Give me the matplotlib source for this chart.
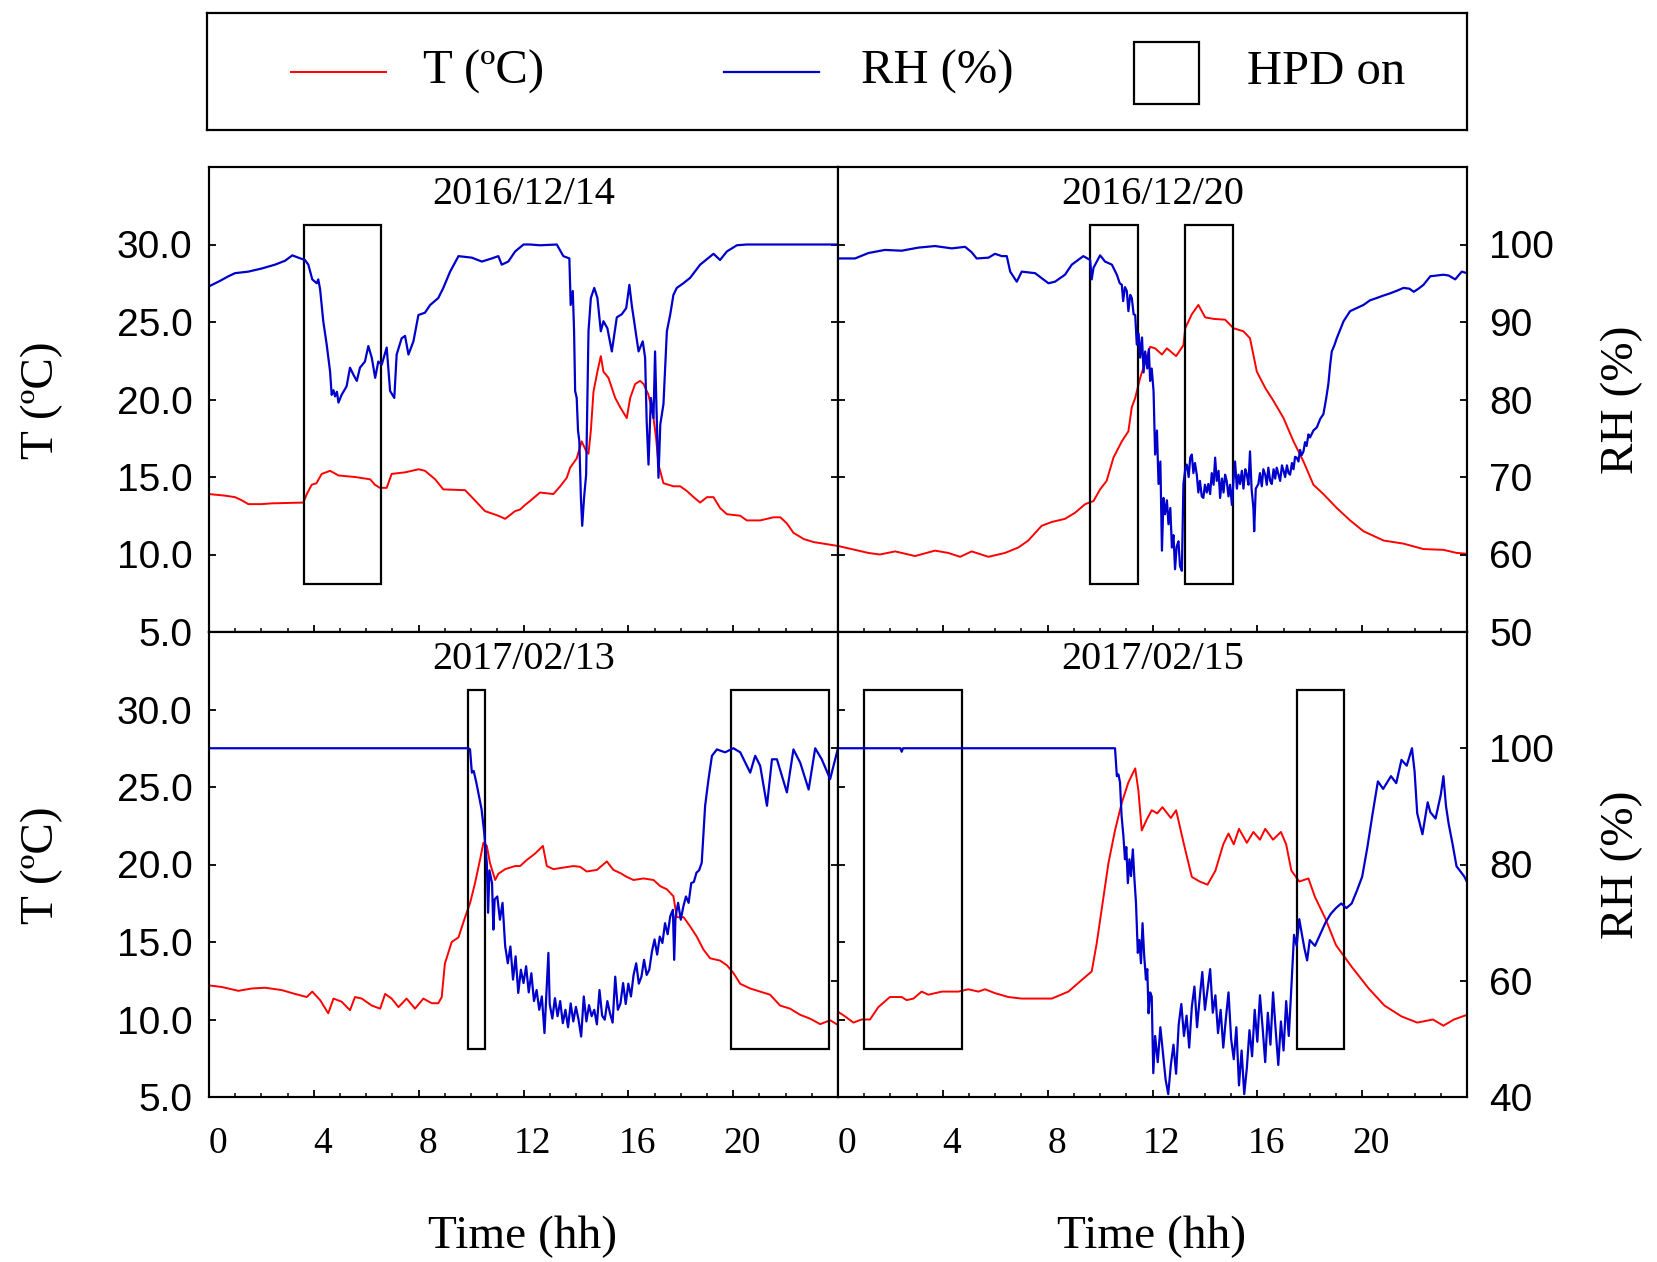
import numpy as np
import matplotlib.pyplot as plt
from matplotlib.patches import Rectangle
from matplotlib.lines import Line2D
from matplotlib.ticker import MultipleLocator, FormatStrFormatter
from matplotlib.transforms import ScaledTranslation

plt.rcParams['font.family'] = 'Liberation Serif'

# ---- 2016/12/14 ----
tl_t_h = [0, 0.6, 0.99, 1.25, 1.5, 2.0, 2.4, 3.6, 3.73, 3.92, 4.1, 4.3, 4.62, 4.94, 5.57, 6.15,
          6.33, 6.52, 6.78, 6.97, 7.48, 8.0, 8.24, 8.63, 8.94, 9.77, 10.03, 10.53, 11.04, 11.3,
          11.68, 11.87, 12.06, 12.25, 12.63, 13.14, 13.4, 13.65, 13.78, 14.03, 14.22, 14.41,
          14.48, 14.57, 14.67, 14.82, 14.95, 15.05, 15.24, 15.5, 15.69, 15.94, 16.07, 16.26,
          16.45, 16.58, 16.77, 16.96, 17.06, 17.15, 17.34, 17.72, 17.98, 18.23, 18.49, 18.74,
          19.0, 19.25, 19.5, 19.76, 20.27, 20.52, 21.03, 21.54, 21.8, 22.05, 22.3, 22.69, 23.07,
          23.45, 24.0]
tl_t = [13.9, 13.8, 13.7, 13.5, 13.25, 13.25, 13.3, 13.35, 13.9, 14.5, 14.6, 15.2, 15.4, 15.1,
        15.0, 14.85, 14.5, 14.3, 14.3, 15.2, 15.3, 15.5, 15.4, 14.85, 14.2, 14.15, 13.7, 12.8,
        12.5, 12.3, 12.8, 12.9, 13.2, 13.45, 14.0, 13.9, 14.4, 14.95, 15.6, 16.2, 17.3, 16.6,
        16.5, 18.0, 20.5, 21.8, 22.8, 21.8, 21.4, 20.1, 19.5, 18.8, 20.1, 21.0, 21.2, 21.0, 20.3,
        18.8, 17.5, 15.8, 14.6, 14.4, 14.4, 14.1, 13.7, 13.35, 13.7, 13.7, 13.0, 12.6, 12.5, 12.2,
        12.2, 12.4, 12.4, 12.0, 11.4, 11.0, 10.8, 10.7, 10.55]
tl_rh_h = [0, 0.36, 0.74, 0.99, 1.5, 2.01, 2.52, 2.9, 3.18, 3.41, 3.66, 3.79, 3.94, 4.11, 4.17,
           4.24, 4.36, 4.49, 4.62, 4.68, 4.75, 4.81, 4.88, 4.94, 5.06, 5.25, 5.38, 5.51, 5.64,
           5.76, 5.95, 6.08, 6.21, 6.34, 6.46, 6.59, 6.78, 6.91, 7.07, 7.16, 7.35, 7.48, 7.61,
           7.8, 7.99, 8.24, 8.44, 8.75, 8.94, 9.2, 9.52, 10.03, 10.41, 10.79, 11.04, 11.17, 11.42,
           11.68, 12.0, 12.25, 12.63, 13.27, 13.52, 13.75, 13.8, 13.88, 13.93, 13.97, 14.03,
           14.08, 14.13, 14.19, 14.24, 14.31, 14.39, 14.48, 14.57, 14.7, 14.82, 14.95, 15.05,
           15.2, 15.37, 15.56, 15.75, 15.92, 16.04, 16.13, 16.26, 16.39, 16.55, 16.64, 16.7,
           16.77, 16.86, 16.96, 17.02, 17.09, 17.15, 17.22, 17.34, 17.47, 17.6, 17.72, 17.85,
           18.1, 18.36, 18.74, 19.25, 19.5, 19.76, 20.14, 20.52, 24.0]
tl_rh = [94.6, 95.2, 95.9, 96.3, 96.5, 96.9, 97.4, 97.9, 98.6, 98.3, 98.0, 97.4, 95.5, 95.0, 95.5,
         94.2, 90.1, 87.1, 83.6, 80.6, 81.2, 80.4, 81.0, 79.6, 80.6, 81.7, 84.1, 83.2, 82.4, 84.1,
         84.9, 86.9, 85.4, 82.8, 84.9, 84.5, 86.7, 81.1, 80.2, 85.8, 87.9, 88.2, 85.8, 87.5, 90.9,
         91.2, 92.2, 93.1, 94.4, 96.5, 98.5, 98.3, 97.8, 98.2, 98.5, 97.4, 97.8, 99.1, 100.0,
         100.0, 99.9, 100.0, 98.5, 98.2, 92.2, 94.0, 88.8, 81.1, 80.2, 76.0, 74.6, 67.3, 63.7,
         67.3, 70.3, 88.8, 93.1, 94.4, 93.1, 88.8, 90.1, 89.2, 86.2, 90.6, 91.0, 91.8, 94.8,
         92.2, 89.2, 86.2, 87.5, 85.4, 77.2, 71.6, 80.2, 77.6, 86.2, 76.8, 69.9, 76.8, 79.4,
         88.8, 91.0, 93.5, 94.4, 95.0, 95.7, 97.4, 98.8, 98.0, 99.1, 99.9, 100.0, 100.0]
tl_hpd = [(3.63, 6.55)]

# ---- 2016/12/20 ----
tr_t_h = [0, 0.52, 1.16, 1.6, 2.18, 2.94, 3.7, 4.21, 4.66, 5.1, 5.74, 6.37, 6.88, 7.26, 7.77,
          8.16, 8.66, 9.05, 9.43, 9.75, 10.0, 10.25, 10.51, 10.83, 11.08, 11.21, 11.34, 11.53,
          11.78, 11.91, 12.1, 12.36, 12.55, 12.9, 13.18, 13.25, 13.5, 13.75, 14.01, 14.33, 14.77,
          15.09, 15.47, 15.72, 15.98, 16.3, 16.62, 17.0, 17.38, 17.76, 18.14, 18.52, 19.03,
          19.54, 20.05, 20.82, 21.58, 22.34, 23.1, 23.61, 24.0]
tr_t = [10.55, 10.35, 10.1, 10.0, 10.2, 9.9, 10.25, 10.1, 9.85, 10.2, 9.85, 10.1, 10.45, 10.9,
        11.85, 12.1, 12.3, 12.7, 13.25, 13.45, 14.2, 14.75, 16.25, 17.3, 17.95, 19.5, 20.1, 21.4,
        22.7, 23.4, 23.3, 22.9, 23.3, 22.8, 23.5, 24.6, 25.5, 26.1, 25.3, 25.2, 25.15, 24.6,
        24.4, 23.95, 21.8, 20.75, 19.9, 18.8, 17.3, 16.0, 14.5, 13.9, 13.0, 12.2, 11.5, 10.9,
        10.7, 10.35, 10.3, 10.1, 10.05]
tr_rh_h = [0, 0.65, 1.16, 1.79, 2.43, 3.07, 3.7, 4.34, 4.85, 5.1, 5.29, 5.74, 5.99, 6.25, 6.44,
           6.57, 6.82, 7.01, 7.52, 8.03, 8.28, 8.66, 8.92, 9.36, 9.62, 9.68, 9.75, 10.0, 10.19,
           10.45, 10.64, 10.75, 10.83, 10.88, 10.95, 11.02, 11.08, 11.15, 11.21, 11.28, 11.34,
           11.4, 11.47, 11.53, 11.6, 11.66, 11.72, 11.8, 11.86, 11.91, 11.97, 12.04, 12.1, 12.17,
           12.23, 12.3, 12.36, 12.42, 12.48, 12.55, 12.61, 12.68, 12.74, 12.8, 12.86, 12.92,
           12.99, 13.05, 13.12, 13.18, 13.25, 13.31, 13.38, 13.44, 13.5, 13.56, 13.62, 13.69,
           13.75, 13.81, 13.88, 13.94, 14.0, 14.07, 14.13, 14.2, 14.26, 14.33, 14.39, 14.45,
           14.52, 14.58, 14.65, 14.71, 14.77, 14.83, 14.9, 14.96, 15.03, 15.09, 15.15, 15.22,
           15.28, 15.34, 15.41, 15.47, 15.54, 15.6, 15.66, 15.72, 15.78, 15.85, 15.88, 15.94,
           16.04, 16.1, 16.17, 16.23, 16.3, 16.36, 16.42, 16.49, 16.55, 16.62, 16.68, 16.74,
           16.81, 16.87, 16.94, 17.0, 17.06, 17.13, 17.19, 17.25, 17.32, 17.38, 17.44, 17.5,
           17.57, 17.63, 17.69, 17.76, 17.82, 17.88, 17.95, 18.01, 18.14, 18.27, 18.4, 18.52,
           18.62, 18.71, 18.78, 18.84, 18.94, 19.03, 19.16, 19.29, 19.54, 19.8, 20.05, 20.3,
           20.56, 20.8, 21.07, 21.3, 21.58, 21.8, 21.97, 22.15, 22.34, 22.6, 22.85, 23.1, 23.3,
           23.55, 23.8, 24.0]
tr_rh = [98.2, 98.2, 98.9, 99.3, 99.2, 99.6, 99.8, 99.5, 99.7, 99.0, 98.2, 98.3, 98.8, 98.5,
         98.5, 96.5, 95.2, 96.5, 96.3, 95.0, 95.2, 96.1, 97.4, 98.5, 98.0, 95.5, 97.0, 98.6, 97.8,
         97.4, 96.1, 95.0, 94.8, 92.7, 94.5, 94.0, 91.4, 93.5, 93.1, 91.0, 90.9, 87.1, 88.5,
         85.4, 88.0, 83.5, 86.2, 84.0, 86.5, 82.4, 84.0, 81.1, 72.9, 76.0, 69.1, 72.0, 60.5,
         67.3, 65.2, 67.0, 63.9, 66.0, 60.9, 62.5, 58.1, 61.0, 61.7, 58.5, 57.9, 69.1, 71.0,
         71.6, 70.0, 72.5, 72.9, 70.5, 71.8, 70.3, 68.0, 69.5, 67.5, 67.3, 69.0, 68.0, 69.1,
         67.8, 70.5, 69.0, 72.5, 69.5, 70.8, 67.3, 69.8, 68.0, 70.3, 69.5, 67.5, 69.0, 66.4,
         69.5, 72.0, 68.5, 70.3, 69.1, 70.8, 68.5, 71.0, 70.3, 69.0, 73.3, 68.5, 66.0, 63.0,
         68.5, 69.1, 70.5, 68.8, 71.0, 70.3, 69.0, 71.2, 69.5, 69.1, 71.0, 69.8, 71.2, 70.3,
         69.5, 71.5, 70.8, 70.0, 71.5, 70.5, 70.3, 71.8, 71.0, 72.6, 72.5, 72.0, 73.5, 72.8,
         73.3, 74.5, 74.0, 75.5, 75.1, 76.0, 76.4, 77.5, 78.1, 80.0, 82.0, 84.5, 86.2, 87.0,
         87.9, 89.0, 90.1, 91.4, 91.8, 92.2, 92.8, 93.1, 93.4, 93.7, 94.0, 94.4, 94.3, 93.9,
         94.3, 94.8, 95.9, 96.0, 96.1, 96.0, 95.5, 96.5, 96.3]
tr_hpd = [(9.62, 11.44), (13.24, 15.06)]

# ---- 2017/02/13 ----
bl_t_h = [0, 0.48, 1.12, 1.63, 2.14, 2.77, 3.28, 3.73, 3.94, 4.24, 4.55, 4.75, 5.06, 5.38,
          5.57, 5.83, 6.21, 6.53, 6.72, 6.97, 7.23, 7.54, 7.86, 8.18, 8.5, 8.75, 8.88, 9.0, 9.26,
          9.52, 9.77, 9.96, 10.15, 10.34, 10.47, 10.6, 10.72, 10.92, 11.04, 11.3, 11.68, 11.87,
          12.13, 12.44, 12.74, 12.89, 13.14, 13.52, 13.9, 14.16, 14.41, 14.8, 15.18, 15.43,
          15.69, 15.94, 16.2, 16.58, 16.96, 17.22, 17.47, 17.72, 17.85, 18.11, 18.36, 18.61,
          18.87, 19.12, 19.5, 19.76, 20.01, 20.27, 20.65, 21.03, 21.41, 21.79, 22.17, 22.56,
          22.94, 23.32, 23.7, 24.0]
bl_t = [12.2, 12.1, 11.85, 12.0, 12.05, 11.9, 11.65, 11.45, 11.8, 11.25, 10.4, 11.35, 11.15,
        10.6, 11.45, 11.35, 10.9, 10.7, 11.65, 11.35, 10.8, 11.35, 10.7, 11.35, 11.05, 11.05,
        11.45, 13.6, 15.0, 15.3, 16.6, 17.5, 18.8, 20.3, 21.4, 21.2, 20.1, 19.0, 19.4, 19.7,
        19.9, 19.9, 20.3, 20.7, 21.2, 19.9, 19.7, 19.8, 19.9, 19.85, 19.55, 19.65, 20.2, 19.65,
        19.45, 19.2, 19.0, 19.1, 19.0, 18.6, 18.4, 17.95, 16.6, 16.6, 16.0, 15.35, 14.5, 13.95,
        13.8, 13.5, 13.0, 12.3, 12.0, 11.8, 11.6, 10.9, 10.7, 10.3, 10.05, 9.7, 9.95, 9.65]
bl_rh_h = [0, 9.9, 9.96, 10.03, 10.1, 10.2, 10.3, 10.4, 10.5, 10.6, 10.65, 10.7, 10.8, 10.85,
           10.9, 11.0, 11.1, 11.2, 11.3, 11.4, 11.5, 11.6, 11.7, 11.8, 11.9, 12.0, 12.1, 12.2,
           12.3, 12.4, 12.5, 12.6, 12.7, 12.8, 12.85, 12.95, 13.0, 13.1, 13.2, 13.3, 13.4, 13.5,
           13.6, 13.7, 13.8, 13.9, 14.0, 14.1, 14.2, 14.3, 14.4, 14.5, 14.6, 14.7, 14.8, 14.9,
           15.0, 15.1, 15.2, 15.3, 15.4, 15.5, 15.6, 15.7, 15.8, 15.9, 16.0, 16.1, 16.2, 16.3,
           16.4, 16.5, 16.6, 16.7, 16.8, 16.9, 17.0, 17.1, 17.2, 17.3, 17.4, 17.5, 17.6, 17.7,
           17.75, 17.8, 17.9, 18.0, 18.1, 18.2, 18.3, 18.4, 18.5, 18.6, 18.7, 18.8, 18.93, 19.06,
           19.19, 19.38, 19.69, 20.01, 20.27, 20.65, 20.84, 21.03, 21.29, 21.48, 21.67, 22.05,
           22.3, 22.56, 22.88, 23.13, 23.38, 23.7, 24.0]
bl_rh = [100.0, 100.0, 99.8, 95.8, 96.1, 94.1, 91.8, 89.5, 85.5, 80.3, 71.7, 79.0, 76.8, 68.8,
         74.0, 74.5, 70.5, 73.4, 66.0, 63.0, 65.9, 60.2, 64.2, 57.9, 61.9, 59.6, 62.5, 58.0,
         61.3, 56.5, 58.4, 55.0, 57.3, 51.0, 55.6, 64.8, 56.0, 53.5, 57.0, 53.9, 56.5, 52.7,
         55.0, 52.0, 56.1, 53.0, 55.5, 53.3, 50.4, 57.3, 53.0, 55.8, 53.9, 55.0, 52.5, 58.4,
         54.0, 53.3, 56.5, 54.4, 52.8, 60.7, 55.0, 56.1, 59.6, 56.0, 59.5, 57.3, 61.0, 63.0,
         59.5, 60.7, 63.6, 61.0, 61.9, 65.0, 67.1, 64.5, 67.6, 66.5, 69.9, 68.0, 71.1, 72.2,
         63.6, 71.0, 73.4, 70.5, 72.8, 74.5, 73.4, 76.8, 77.0, 78.6, 79.0, 80.3, 90.1, 94.7,
         98.7, 99.8, 99.3, 100.0, 99.3, 95.8, 98.7, 97.0, 90.1, 98.1, 98.1, 92.4, 99.8, 97.5,
         92.9, 100.0, 98.1, 94.7, 100.0]
bl_hpd = [(9.87, 10.53), (19.92, 23.66)]

# ---- 2017/02/15 ----
br_t_h = [0, 0.27, 0.59, 0.9, 1.22, 1.54, 1.98, 2.43, 2.62, 2.88, 3.19, 3.45, 3.96, 4.59, 4.97,
          5.36, 5.61, 5.99, 6.5, 7.01, 7.52, 8.16, 8.79, 9.3, 9.68, 9.87, 10.06, 10.32, 10.57,
          10.83, 11.08, 11.34, 11.46, 11.59, 11.78, 11.97, 12.18, 12.38, 12.7, 12.9, 13.2, 13.5,
          13.8, 14.1, 14.4, 14.7, 14.9, 15.1, 15.3, 15.6, 15.85, 16.1, 16.3, 16.6, 16.9, 17.1,
          17.3, 17.6, 17.95, 18.2, 18.6, 19.0, 19.6, 20.25, 20.85, 21.5, 22.1, 22.7, 23.1, 23.5,
          24.0]
br_t = [10.5, 10.2, 9.8, 10.0, 10.0, 10.8, 11.45, 11.45, 11.25, 11.35, 11.8, 11.6, 11.8, 11.8,
        11.95, 11.8, 11.95, 11.7, 11.45, 11.35, 11.35, 11.35, 11.8, 12.55, 13.1, 14.9, 17.1,
        20.1, 22.2, 24.0, 25.3, 26.2, 24.8, 22.2, 22.9, 23.5, 23.3, 23.7, 23.0, 23.5, 21.3,
        19.2, 18.9, 18.7, 19.6, 21.3, 22.0, 21.3, 22.3, 21.4, 22.1, 21.6, 22.3, 21.6, 22.1, 21.3,
        19.6, 18.9, 19.1, 17.9, 16.5, 14.8, 13.4, 12.0, 10.9, 10.2, 9.8, 10.0, 9.6, 10.0, 10.3]
br_rh_h = [0, 2.38, 2.43, 2.48, 10.57, 10.64, 10.7, 10.76, 10.82, 10.89, 10.95, 11.0, 11.06,
           11.12, 11.18, 11.25, 11.31, 11.37, 11.44, 11.5, 11.56, 11.62, 11.68, 11.75, 11.8,
           11.85, 11.91, 11.97, 12.03, 12.1, 12.2, 12.3, 12.4, 12.5, 12.6, 12.7, 12.8, 12.9,
           13.0, 13.1, 13.2, 13.3, 13.4, 13.5, 13.6, 13.7, 13.8, 13.9, 14.0, 14.1, 14.2, 14.3,
           14.4, 14.5, 14.6, 14.7, 14.8, 14.9, 15.0, 15.1, 15.2, 15.3, 15.4, 15.5, 15.6, 15.7,
           15.8, 15.9, 16.0, 16.1, 16.2, 16.3, 16.4, 16.5, 16.6, 16.7, 16.8, 16.9, 17.0, 17.1,
           17.2, 17.3, 17.4, 17.5, 17.6, 17.7, 17.8, 17.9, 18.0, 18.2, 18.4, 18.6, 18.8, 19.0,
           19.2, 19.4, 19.6, 19.8, 20.0, 20.2, 20.4, 20.6, 20.8, 21.1, 21.3, 21.5, 21.7, 21.9,
           22.0, 22.1, 22.3, 22.5, 22.6, 22.8, 23.0, 23.1, 23.2, 23.3, 23.45, 23.6, 23.8, 23.9,
           24.0]
br_rh = [100.0, 100.0, 99.4, 100.0, 100.0, 95.2, 95.5, 94.1, 88.4, 84.9, 80.9, 83.0, 76.8, 80.9,
         78.0, 82.6, 77.5, 73.4, 64.8, 67.0, 63.0, 69.9, 64.5, 60.2, 62.0, 54.4, 58.0, 57.3,
         44.1, 50.5, 46.0, 52.0, 47.5, 43.0, 40.5, 45.5, 49.0, 44.0, 52.5, 56.0, 50.5, 54.0,
         48.5, 55.5, 59.0, 52.0, 57.0, 61.5, 55.0, 58.5, 62.0, 54.5, 57.5, 51.0, 55.0, 48.5,
         53.5, 58.0, 50.0, 46.5, 52.0, 42.0, 48.0, 40.5, 45.0, 51.5, 47.0, 55.0, 49.5, 57.5,
         52.0, 46.0, 54.5, 49.0, 58.0, 51.5, 45.5, 53.0, 48.0, 56.5, 50.5, 59.0, 67.9, 66.0,
         70.6, 68.0, 65.5, 63.5, 67.0, 66.0, 68.0, 70.0, 71.5, 72.5, 73.3, 72.5, 73.3, 75.5,
         77.9, 83.0, 88.8, 94.3, 93.0, 95.2, 94.0, 98.0, 97.0, 100.0, 96.0, 88.8, 85.2, 90.7,
         89.0, 87.9, 92.0, 95.2, 90.0, 87.0, 83.5, 79.7, 78.5, 77.9, 77.0]
br_hpd = [(1.0, 4.73), (17.5, 19.32)]

titles = ['2016/12/14', '2016/12/20', '2017/02/13', '2017/02/15']
hpd_bottom, hpd_top = 8.1, 31.25

W, H = 1657, 1262
fig = plt.figure(figsize=(W / 100, H / 100), dpi=100)
gs = fig.add_gridspec(2, 2, left=209 / W, right=1467 / W, top=1 - 167 / H,
                      bottom=1 - 1097 / H, hspace=0, wspace=0)

panels = [
    (tl_t_h, tl_t, tl_rh_h, tl_rh, tl_hpd),
    (tr_t_h, tr_t, tr_rh_h, tr_rh, tr_hpd),
    (bl_t_h, bl_t, bl_rh_h, bl_rh, bl_hpd),
    (br_t_h, br_t, br_rh_h, br_rh, br_hpd),
]

shift = ScaledTranslation(9 / 100, 0, fig.dpi_scale_trans)

for i, (t_h, t_v, rh_h, rh_v, hpd) in enumerate(panels):
    row, col = divmod(i, 2)
    ax = fig.add_subplot(gs[row, col])
    ax2 = ax.twinx()

    ax.plot(t_h, t_v, color='#ff0000', lw=1.4, zorder=2)
    ax2.plot(rh_h, rh_v, color='#0000cc', lw=1.6)
    for x0, x1 in hpd:
        ax.add_patch(Rectangle((x0, hpd_bottom), x1 - x0, hpd_top - hpd_bottom,
                               fill=False, edgecolor='black', lw=1.6, zorder=3))

    ax.set_xlim(0, 24)
    ax.set_ylim(5, 35)
    ax.set_xticks(range(0, 24, 4))
    ax.xaxis.set_minor_locator(MultipleLocator(1))
    ax.set_yticks(np.arange(5, 31, 5))
    ax.yaxis.set_major_formatter(FormatStrFormatter('%.1f'))
    if row == 0:
        ax2.set_ylim(50, 110)
        ax2.set_yticks(range(50, 101, 10))
    else:
        ax2.set_ylim(40, 120)
        ax2.set_yticks(range(40, 101, 20))

    ax.tick_params(which='major', direction='in', length=5, width=1.3)
    ax.tick_params(which='minor', direction='in', length=3, width=1.1)
    ax.tick_params(axis='x', labelsize=27, pad=21)
    ax.tick_params(axis='y', labelsize=28, labelfontfamily='Liberation Sans', pad=12)
    ax2.tick_params(direction='in', length=5, width=1.3, labelsize=28,
                    labelfontfamily='Liberation Sans', pad=16)
    if row == 0:
        ax.tick_params(labelbottom=False)
    if col == 1:
        ax.tick_params(labelleft=False)
    else:
        ax2.tick_params(labelright=False)
    for lab in ax.get_xticklabels():
        lab.set_transform(lab.get_transform() + shift)

    for a in (ax, ax2):
        for sp in a.spines.values():
            sp.set_linewidth(1.5)

    ax.text(0.5, 0.94, titles[i], transform=ax.transAxes, ha='center', va='center',
            fontsize=29)

# axis titles
for yc in (400, 865):
    fig.text(42 / W, 1 - yc / H, 'T (ºC)', rotation=90, ha='center', va='center',
             fontsize=34)
    fig.text(1622 / W, 1 - yc / H, 'RH (%)', rotation=90, ha='center', va='center',
             fontsize=34)
for xc in (523, 1152):
    fig.text(xc / W, 1 - 1237 / H, 'Time (hh)', ha='center', va='center', fontsize=34)

# key box above the panels
lax = fig.add_axes([207 / W, 1 - 130 / H, 1260 / W, 117 / H])
lax.set_xticks([])
lax.set_yticks([])
for sp in lax.spines.values():
    sp.set_linewidth(1.6)
tr = lax.transAxes
lax.add_line(Line2D([0.0667, 0.1421], [0.5, 0.5], color='#ff0000', lw=1.4, transform=tr))
lax.text(0.1714, 0.5, 'T (ºC)', transform=tr, va='center', ha='left', fontsize=35)
lax.add_line(Line2D([0.4103, 0.4857], [0.5, 0.5], color='#0000cc', lw=1.6, transform=tr))
lax.text(0.5190, 0.5, 'RH (%)', transform=tr, va='center', ha='left', fontsize=35)
lax.add_patch(Rectangle((0.7357, 0.2222), 0.0516, 0.5299, fill=False, edgecolor='black',
                        lw=1.6, transform=tr))
lax.text(0.8254, 0.5, 'HPD on', transform=tr, va='center', ha='left', fontsize=35)

fig.savefig('out.png', dpi=100)
